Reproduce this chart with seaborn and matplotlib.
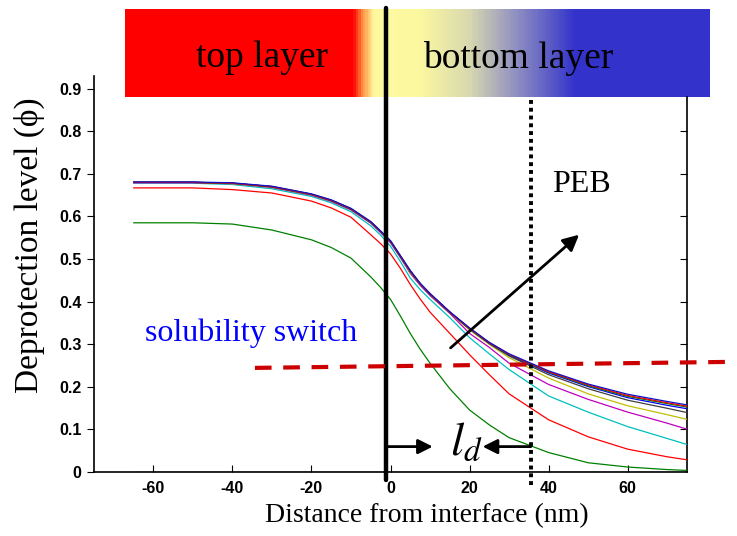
import matplotlib
matplotlib.use("Agg")
import matplotlib.pyplot as plt
import numpy as np
import pandas as pd
import seaborn as sns
from matplotlib.colors import LinearSegmentedColormap

distance = [-65, -50, -40, -30, -20, -15, -10, -5, -2.5, 0, 2.5, 5, 7.5, 10,
            15, 20, 25, 30, 40, 50, 60, 70, 75]

# deprotection level for successive PEB times (MATLAB colour order)
phi_t0 = [0.0] * len(distance)
phi_green = [0.585, 0.585, 0.582, 0.568, 0.545, 0.527, 0.502, 0.458, 0.433, 0.405, 0.366, 0.325,
             0.288, 0.255, 0.195, 0.145, 0.110, 0.080, 0.045, 0.021, 0.011, 0.005, 0.003]
phi_red = [0.667, 0.667, 0.663, 0.655, 0.636, 0.620, 0.598, 0.557, 0.536, 0.512, 0.478, 0.440,
           0.406, 0.375, 0.325, 0.275, 0.228, 0.183, 0.122, 0.082, 0.053, 0.035, 0.028]
phi_cyan = [0.678, 0.678, 0.675, 0.665, 0.647, 0.632, 0.611, 0.578, 0.556, 0.530, 0.494, 0.455,
            0.428, 0.405, 0.362, 0.315, 0.277, 0.240, 0.178, 0.140, 0.106, 0.078, 0.064]
phi_magenta = [0.679, 0.679, 0.677, 0.668, 0.650, 0.635, 0.615, 0.584, 0.562, 0.538, 0.503, 0.466,
               0.438, 0.414, 0.372, 0.325, 0.292, 0.255, 0.205, 0.170, 0.140, 0.114, 0.100]
phi_yellow = [0.680, 0.680, 0.677, 0.669, 0.651, 0.636, 0.616, 0.585, 0.563, 0.540, 0.505, 0.468,
              0.440, 0.416, 0.374, 0.333, 0.299, 0.268, 0.220, 0.183, 0.155, 0.134, 0.123]
phi_gray = [0.680, 0.680, 0.678, 0.669, 0.651, 0.637, 0.617, 0.586, 0.564, 0.541, 0.506, 0.470,
            0.441, 0.417, 0.374, 0.335, 0.301, 0.272, 0.228, 0.195, 0.168, 0.149, 0.139]
phi_blue = [0.680, 0.680, 0.678, 0.670, 0.652, 0.637, 0.617, 0.586, 0.564, 0.541, 0.506, 0.471,
            0.441, 0.417, 0.375, 0.336, 0.302, 0.274, 0.232, 0.200, 0.174, 0.156, 0.148]
phi_green2 = [0.680, 0.680, 0.678, 0.670, 0.652, 0.638, 0.618, 0.587, 0.565, 0.542, 0.507, 0.472,
              0.442, 0.418, 0.375, 0.336, 0.303, 0.275, 0.234, 0.202, 0.177, 0.160, 0.152]
phi_red2 = [0.680, 0.680, 0.678, 0.670, 0.652, 0.638, 0.618, 0.587, 0.565, 0.542, 0.507, 0.472,
            0.442, 0.418, 0.375, 0.337, 0.303, 0.276, 0.235, 0.204, 0.179, 0.162, 0.154]
phi_blue2 = [0.681, 0.681, 0.679, 0.671, 0.653, 0.639, 0.619, 0.588, 0.566, 0.543, 0.508, 0.473,
             0.443, 0.419, 0.376, 0.338, 0.304, 0.277, 0.237, 0.206, 0.182, 0.165, 0.157]

curves = {
    "t0": (phi_t0, "#10108a"),
    "green": (phi_green, "#008000"),
    "red": (phi_red, "#ff0000"),
    "cyan": (phi_cyan, "#00bfbf"),
    "magenta": (phi_magenta, "#bf00bf"),
    "yellow": (phi_yellow, "#bfbf00"),
    "gray": (phi_gray, "#404040"),
    "blue": (phi_blue, "#0000ff"),
    "green2": (phi_green2, "#008000"),
    "red2": (phi_red2, "#ff0000"),
    "blue2": (phi_blue2, "#1010c8"),
}

frames = []
for name, (vals, col) in curves.items():
    frames.append(pd.DataFrame({"distance": distance, "phi": vals, "curve": name}))
df = pd.concat(frames, ignore_index=True)
palette = {name: col for name, (vals, col) in curves.items()}

x_ticks = [-60, -40, -20, 0, 20, 40, 60]
y_ticks = [0, 0.1, 0.2, 0.3, 0.4, 0.5, 0.6, 0.7, 0.8, 0.9]
y_labels = ["0", "0.1", "0.2", "0.3", "0.4", "0.5", "0.6", "0.7", "0.8", "0.9"]

sns.set_style("ticks")
plt.rcParams["font.family"] = ["Liberation Serif", "DejaVu Serif"]
plt.rcParams["mathtext.fontset"] = "stix"
for key in ["text.color", "axes.labelcolor", "xtick.color", "ytick.color", "axes.edgecolor"]:
    plt.rcParams[key] = "black"

fig = plt.figure(figsize=(7.37, 5.36), dpi=100)

# banner with the two layers
banner = fig.add_axes([125 / 737, 1 - 97 / 536, 585 / 737, 88 / 536])
banner.set_zorder(0)
stops = [(0.0, "#ff0000"), (0.390, "#ff0000"), (0.405, "#ff9040"), (0.425, "#fffaa0"),
         (0.505, "#fbf8a0"), (0.59, "#d8d8b0"), (0.66, "#9898c0"), (0.74, "#5050c8"),
         (0.77, "#3333cc"), (1.0, "#3333cc")]
cmap = LinearSegmentedColormap.from_list("layers", stops)
banner.imshow(np.linspace(0, 1, 600)[None, :], aspect="auto", cmap=cmap)
banner.axis("off")
fig.text(262 / 737, 1 - 58 / 536, "top layer", fontsize=27, ha="center", va="center")
fig.text(518 / 737, 1 - 58 / 536, "bottom layer", fontsize=27, ha="center", va="center")

ax = fig.add_axes([94 / 737, 1 - 471.7 / 536, 593 / 737, 395.7 / 536])
ax.set_zorder(1)
ax.patch.set_visible(False)

sns.lineplot(data=df, x="distance", y="phi", hue="curve", palette=palette,
             legend=False, linewidth=0.9, ax=ax, sort=False)

ax.set_xlim(-75, 75)
ax.set_ylim(0, 0.93)
ax.set_xticks(x_ticks)
ax.set_xticklabels([str(v) for v in x_ticks], fontsize=11.5, fontweight="bold",
                   family="Liberation Sans")
ax.set_yticks(y_ticks)
ax.set_yticklabels(y_labels, fontsize=11.5, fontweight="bold", family="Liberation Sans")
ax.tick_params(axis="x", direction="in", length=5, pad=7)
ax.tick_params(axis="y", direction="out", length=5, pad=4)
ax.set_xlabel("")
ax.set_ylabel("")
ax.spines["top"].set_visible(False)
ax.spines["right"].set_visible(False)
for s in ["left", "bottom"]:
    ax.spines[s].set_linewidth(1.2)

right = ax.secondary_yaxis("right")
right.set_yticks(y_ticks[1:9])
right.set_yticklabels([])
right.tick_params(direction="in", length=5)
right.spines["right"].set_bounds(0, 0.88)
right.spines["right"].set_linewidth(1.2)

# interface and diffusion front
ax.plot([-1.2, -1.2], [-0.02, 1.09], color="k", lw=3.2, clip_on=False, zorder=6)
ax.plot([35.5, 35.5], [-0.031, 0.88], color="k", lw=2.8, ls=(0, (1, 1)),
        clip_on=False, zorder=6)

# solubility switch threshold
ax.plot([-34.3, 85], [0.244, 0.258], color="#cc0000", lw=3, dashes=(4, 2.8),
        clip_on=False, zorder=6)
ax.text(-62.2, 0.326, "solubility switch", color="#0000ff", fontsize=23, va="center")

# PEB arrow
ax.annotate("", xy=(47.7, 0.557), xytext=(15.2, 0.291),
            arrowprops=dict(arrowstyle="-|>", lw=2, color="k", mutation_scale=24,
                            shrinkA=0, shrinkB=0))
ax.text(48.2, 0.675, "PEB", fontsize=23, ha="center", va="center")

# diffusion length l_d
ax.annotate("", xy=(10.7, 0.059), xytext=(-1.2, 0.059),
            arrowprops=dict(arrowstyle="-|>", lw=2, color="k", mutation_scale=22,
                            shrinkA=0, shrinkB=0))
ax.annotate("", xy=(23.3, 0.059), xytext=(35.5, 0.059),
            arrowprops=dict(arrowstyle="-|>", lw=2, color="k", mutation_scale=22,
                            shrinkA=0, shrinkB=0))
ax.text(15.0, 0.039, r"$l_d$", fontsize=34, ha="left", va="baseline")

fig.text(29 / 737, 1 - 245 / 536, "Deprotection level (ϕ)", fontsize=24,
         rotation=90, ha="center", va="center")
fig.text(427 / 737, 1 - 516 / 536, "Distance from interface (nm)", fontsize=20,
         ha="center", va="center")

fig.savefig("out.png", dpi=100)
